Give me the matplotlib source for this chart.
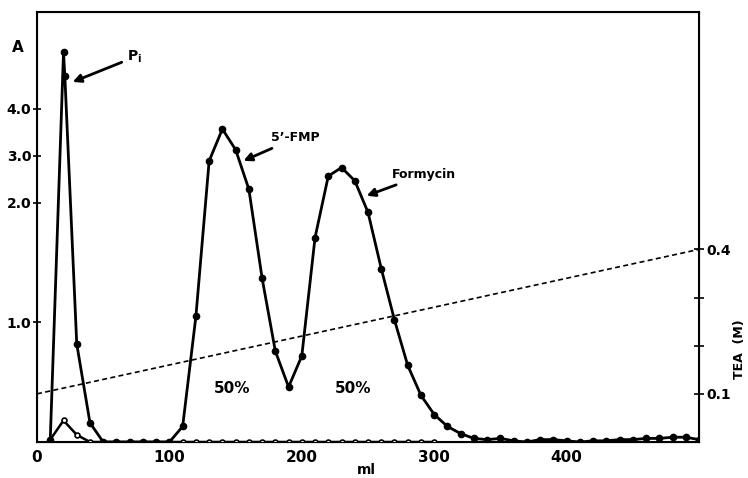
import numpy as np
import matplotlib.pyplot as plt

# elution profile, absorbance A vs. effluent volume (ml)
ml_main = [10, 20, 21, 30, 40, 50, 60, 70, 80, 90, 100, 110, 120, 130, 140, 150,
           160, 170, 180, 190, 200, 210, 220, 230, 240, 250, 260, 270, 280, 290,
           300, 310, 320, 330, 340, 350, 360, 370, 380, 390, 400, 410, 420, 430,
           440, 450, 460, 470, 480, 490, 500]
a_main = [0.02, 5.2, 4.7, 0.82, 0.16, 0.0, 0.0, 0.0, 0.0, 0.0, 0.0, 0.13, 1.05,
          2.89, 3.57, 3.13, 2.29, 1.37, 0.76, 0.46, 0.72, 1.71, 2.57, 2.75, 2.47,
          1.92, 1.45, 1.02, 0.64, 0.39, 0.23, 0.13, 0.07, 0.03, 0.02, 0.03, 0.01,
          0.0, 0.02, 0.02, 0.01, 0.0, 0.01, 0.01, 0.02, 0.02, 0.03, 0.03, 0.04,
          0.04, 0.02]

# second trace (open circles)
ml_low = [10, 20, 30, 40, 50, 60, 70, 80, 90, 100, 110, 120, 130, 140, 150, 160,
          170, 180, 190, 200, 210, 220, 230, 240, 250, 260, 270, 280, 290, 300]
a_low = [0.02, 0.18, 0.06, 0.0, 0.0, 0.0, 0.0, 0.0, 0.0, 0.0, 0.0, 0.0, 0.0, 0.0,
         0.0, 0.0, 0.0, 0.0, 0.0, 0.0, 0.0, 0.0, 0.0, 0.0, 0.0, 0.0, 0.0, 0.0,
         0.0, 0.0]

# TEA gradient
grad_ml = [0, 500]
grad_M = [0.1, 0.4]

a_ticks = [1.0, 2.0, 3.0, 4.0]
tea_ticks = [0.1, 0.2, 0.3, 0.4]
tea_labels = ["0.1", "", "", "0.4"]
x_ticks = [0, 100, 200, 300, 400]


# A-axis is compressed above 2.0
def fwd(a):
    return np.interp(a, [-1, 0, 2, 10], [-1, 0, 2, 2 + 8 * 0.393])


def inv(s):
    return np.interp(s, [-1, 0, 2, 2 + 8 * 0.393], [-1, 0, 2, 10])


fnt = dict(fontsize=10, fontweight='bold')

fig = plt.figure(figsize=(7.48, 4.78), dpi=100)
ax = fig.add_axes([0.0495, 0.0753, 0.885, 0.8996])
ax.set_yscale('function', functions=(fwd, inv))

ax.plot(ml_low, a_low, color='black', lw=1.8, marker='o', ms=3.5,
        mfc='white', mec='black', mew=1.2, zorder=3)
ax.plot(ml_main, a_main, color='black', lw=2, marker='o', ms=4.5, zorder=4)

ax.set_xlim(0, 500)
ax.set_ylim(0, 6.06)
ax.set_xticks(x_ticks)
ax.set_xticklabels([str(t) for t in x_ticks], fontsize=11, fontweight='bold')
ax.set_yticks(a_ticks)
ax.set_yticklabels(["%.1f" % t for t in a_ticks], **fnt)
ax.yaxis.set_minor_locator(plt.NullLocator())
ax.tick_params(axis='x', length=0, pad=6)
ax.tick_params(axis='y', direction='inout', length=6, width=1.2, pad=1)
for s in ax.spines.values():
    s.set_linewidth(1.5)

ax2 = ax.twinx()
ax2.plot(grad_ml, grad_M, color='black', lw=1.2, ls=(0, (3, 2)))
ax2.set_ylim(0, 0.893)
ax2.set_yticks(tea_ticks)
ax2.set_yticklabels(tea_labels, **fnt)
ax2.tick_params(axis='y', direction='inout', length=7, width=1.2, pad=2)

fig.text(740 / 748, 1 - 349 / 478, "TEA  (M)", rotation=90, ha='center',
         va='center', fontsize=9, fontweight='bold')
fig.text(366 / 748, 1 - 470 / 478, "ml", ha='center', va='center', **fnt)
fig.text(18 / 748, 1 - 48 / 478, "A", ha='center', va='center',
         fontsize=11, fontweight='bold')

arr = dict(arrowstyle='-|>', color='black', lw=2, mutation_scale=12)
ax.annotate("P$_\\mathbf{i}$", xy=(25, 4.55), xytext=(68, 5.1),
            arrowprops=arr, va='center', **fnt)
ax.annotate("5\u2019-FMP", xy=(154, 2.87), xytext=(177, 3.38),
            arrowprops=arr, va='center', fontsize=9, fontweight='bold')
ax.annotate("Formycin", xy=(247, 2.13), xytext=(268, 2.6),
            arrowprops=arr, va='center', fontsize=9, fontweight='bold')
ax.text(147, 0.45, "50%", ha='center', va='center', fontsize=11, fontweight='bold')
ax.text(239, 0.45, "50%", ha='center', va='center', fontsize=11, fontweight='bold')

fig.savefig("out.png", dpi=100)
